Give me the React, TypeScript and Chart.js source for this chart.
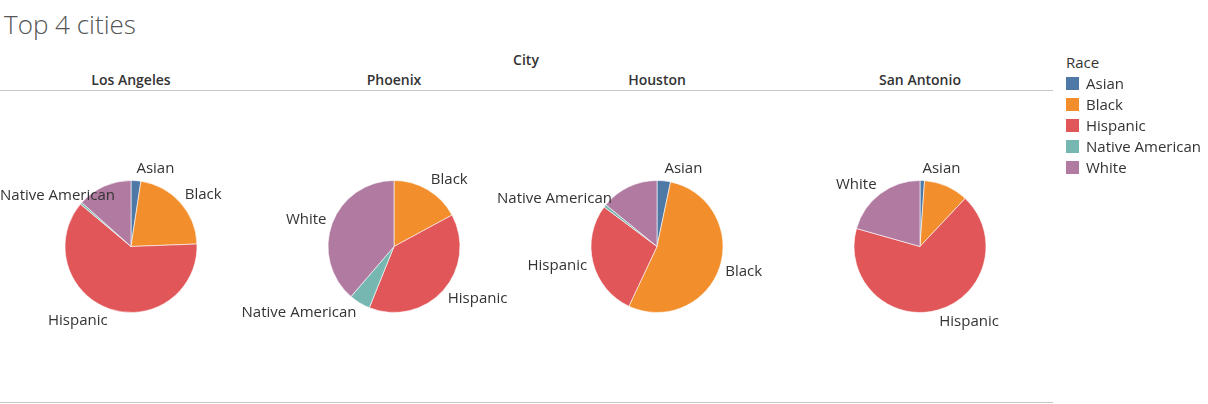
import React, { useEffect, useRef } from "react";
import { Chart, registerables } from "chart.js";

Chart.register(...registerables);

const races = ["Asian", "Black", "Hispanic", "Native American", "White"];
const raceColors = ["#4e79a7", "#f28e2b", "#e15759", "#76b7b2", "#b07aa1"];
const cities = ["Los Angeles", "Phoenix", "Houston", "San Antonio"];
const losAngeles = [2.4, 22.0, 61.7, 0.5, 13.4];
const phoenix = [0, 17.1, 39.0, 5.2, 38.7];
const houston = [3.3, 53.7, 28.2, 0.7, 14.1];
const sanAntonio = [1.1, 10.9, 67.4, 0, 20.6];
const cityValues = [losAngeles, phoenix, houston, sanAntonio];
const hiddenLabels = [["White"], [], ["White"], ["Black"]];

const FONT = "'Open Sans', 'Noto Sans', sans-serif";
const COL_W = 263;
const FIRST_CENTER = 131;
const CANVAS_W = 320;
const CANVAS_H = 311;
const CANVAS_TOP = 91;

const sliceLabels = {
  id: "sliceLabels",
  afterDatasetsDraw(chart: any, _args: any, opts: any) {
    const ctx = chart.ctx;
    const meta = chart.getDatasetMeta(0);
    const labels = chart.data.labels as string[];
    const data = chart.data.datasets[0].data as number[];
    ctx.save();
    ctx.font = `15px ${FONT}`;
    ctx.fillStyle = "#333333";
    ctx.textBaseline = "middle";
    ctx.textAlign = "left";
    meta.data.forEach((arc: any, i: number) => {
      if (!(data[i] > 0)) return;
      if ((opts.hidden || []).includes(labels[i])) return;
      const p = arc.getProps(["x", "y", "startAngle", "endAngle", "outerRadius"], true);
      const mid = (p.startAngle + p.endAngle) / 2;
      const lx = p.x + Math.cos(mid) * (p.outerRadius + 6);
      const ly = p.y + Math.sin(mid) * (p.outerRadius + 12);
      const w = ctx.measureText(labels[i]).width;
      let left = Math.cos(mid) >= -0.05 ? lx : lx - w;
      left = Math.max(opts.minX || 0, left);
      ctx.fillText(labels[i], left, ly);
    });
    ctx.restore();
  },
};

function CityPie({ idx }: { idx: number }) {
  const ref = useRef<HTMLCanvasElement | null>(null);
  const left = FIRST_CENTER + COL_W * idx - CANVAS_W / 2;
  useEffect(() => {
    if (!ref.current) return;
    const chart = new Chart(ref.current, {
      type: "pie",
      data: {
        labels: races,
        datasets: [
          {
            data: cityValues[idx],
            backgroundColor: raceColors,
            borderColor: "#ffffff",
            borderWidth: 0.6,
          },
        ],
      },
      options: {
        responsive: false,
        animation: false,
        radius: 66,
        layout: { padding: 0 },
        plugins: {
          legend: { display: false },
          tooltip: { enabled: false },
          sliceLabels: { hidden: hiddenLabels[idx], minX: left < 0 ? -left : 0 },
        } as any,
      } as any,
      plugins: [sliceLabels],
    });
    return () => chart.destroy();
  }, [idx]);
  return (
    <canvas
      ref={ref}
      width={CANVAS_W}
      height={CANVAS_H}
      style={{ position: "absolute", left, top: CANVAS_TOP, width: CANVAS_W, height: CANVAS_H }}
    />
  );
}

export default function App() {
  return (
    <div
      style={{
        position: "fixed",
        left: 0,
        top: 0,
        width: 1208,
        height: 404,
        background: "#fff",
        overflow: "hidden",
        fontFamily: FONT,
        color: "#333",
      }}
    >
      <div
        style={{
          position: "absolute",
          left: 4,
          top: 7,
          fontSize: 26,
          fontWeight: 300,
          color: "#555",
          lineHeight: "34px",
          whiteSpace: "nowrap",
        }}
      >
        Top 4 cities
      </div>
      <div
        style={{
          position: "absolute",
          left: 426,
          width: 200,
          top: 51,
          textAlign: "center",
          fontSize: 14,
          fontWeight: 600,
          lineHeight: "18px",
        }}
      >
        City
      </div>
      {cities.map((c, i) => (
        <div
          key={c}
          style={{
            position: "absolute",
            left: FIRST_CENTER + COL_W * i - 100,
            width: 200,
            top: 71,
            textAlign: "center",
            fontSize: 14,
            fontWeight: 600,
            lineHeight: "18px",
          }}
        >
          {c}
        </div>
      ))}
      <div style={{ position: "absolute", left: 0, top: 90, width: 1053, height: 1, background: "#c8c8c8" }} />
      <div style={{ position: "absolute", left: 0, top: 402, width: 1053, height: 1, background: "#c8c8c8" }} />
      {cities.map((c, i) => (
        <CityPie key={c} idx={i} />
      ))}
      <div
        style={{
          position: "absolute",
          left: 1066,
          top: 53,
          fontSize: 15,
          fontWeight: 500,
          lineHeight: "18px",
        }}
      >
        Race
      </div>
      {races.map((r, i) => (
        <div
          key={r}
          style={{
            position: "absolute",
            left: 1066,
            top: 74 + i * 21,
            height: 18,
            display: "flex",
            alignItems: "center",
            whiteSpace: "nowrap",
            fontSize: 15,
            lineHeight: "18px",
          }}
        >
          <span
            style={{
              display: "inline-block",
              width: 13,
              height: 13,
              background: raceColors[i],
              marginRight: 7,
            }}
          />
          {r}
        </div>
      ))}
    </div>
  );
}
